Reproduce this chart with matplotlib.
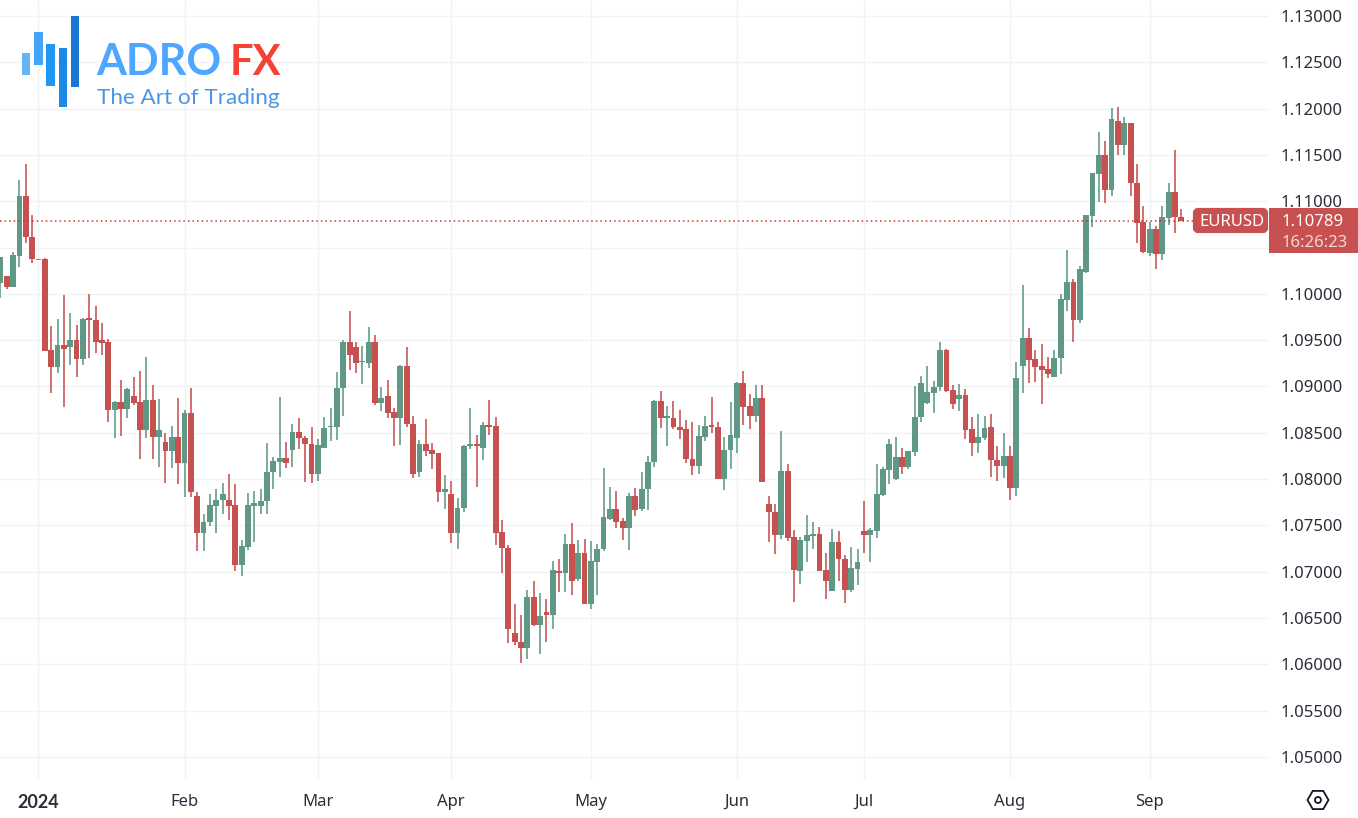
import numpy as np
import pandas as pd
import matplotlib
matplotlib.use('Agg')
import matplotlib.pyplot as plt
from matplotlib.patches import Rectangle, FancyBboxPatch, RegularPolygon, Circle

# EURUSD daily candles, 22 Dec 2023 - 9 Sep 2024
opens = [1.10113, 1.10192, 1.10070, 1.10408, 1.11056, 1.10617, 1.10369, 1.10372, 1.09393, 1.09209,
         1.09443, 1.09429, 1.09501, 1.09296, 1.09735, 1.09717, 1.09501, 1.09479, 1.08749, 1.08828,
         1.08756, 1.08896, 1.08828, 1.08529, 1.08853, 1.08453, 1.08403, 1.08302, 1.08453, 1.08176,
         1.08716, 1.07816, 1.07420, 1.07532, 1.07712, 1.07773, 1.07773, 1.07719, 1.07078, 1.07269,
         1.07712, 1.07712, 1.07766, 1.08075, 1.08187, 1.08223, 1.08313, 1.08507,
         1.08440, 1.08379, 1.08051, 1.08339, 1.08559, 1.08562, 1.08984, 1.09484, 1.09426, 1.09261, 1.09257,
         1.09480, 1.08825, 1.08894, 1.08724, 1.08656, 1.09221, 1.08595, 1.08076, 1.08375, 1.08310,
         1.08278, 1.07864, 1.07839, 1.07421, 1.07688, 1.08361, 1.08375, 1.08339, 1.08588, 1.08573,
         1.07428, 1.07256, 1.06338, 1.06240, 1.06176, 1.06726, 1.06424, 1.06564, 1.06532, 1.07011,
         1.06982, 1.07299, 1.06924, 1.07202, 1.06651, 1.07108, 1.07245, 1.07569, 1.07677, 1.07544,
         1.07475, 1.07817, 1.07677, 1.07893, 1.08188, 1.08843, 1.08663, 1.08656, 1.08559, 1.08541,
         1.08220, 1.08141, 1.08454, 1.08580, 1.08562, 1.08004, 1.08314, 1.08440, 1.09041, 1.08789,
         1.08681, 1.08876, 1.07734, 1.07648, 1.07396, 1.08087, 1.07374, 1.07011, 1.07331, 1.07389,
         1.07410, 1.07014, 1.06795, 1.07320, 1.07137, 1.06802, 1.07029, 1.07436, 1.07396, 1.07443,
         1.07832, 1.08098, 1.08001, 1.08238, 1.08127, 1.08296, 1.08674, 1.08818, 1.08933, 1.08991,
         1.09394, 1.08962, 1.08861, 1.08908, 1.08541, 1.08393, 1.08447, 1.08559, 1.08206, 1.08145,
         1.08253, 1.07904, 1.09221, 1.09527, 1.09297, 1.09218, 1.09189, 1.09106, 1.09311, 1.09933,
         1.10124, 1.09717, 1.10239, 1.10840, 1.11294, 1.11495, 1.11121, 1.11866, 1.11607, 1.11848,
         1.11193, 1.10775, 1.10441, 1.10696, 1.10430, 1.10819, 1.11099, 1.10826]
highs = [1.10401, 1.10192, 1.10451, 1.11229, 1.11398, 1.10851, 1.10376, 1.10387, 1.09652, 1.09728,
         1.09987, 1.09789, 1.09663, 1.09742, 1.09998, 1.09868, 1.09681, 1.09512, 1.08842, 1.09069,
         1.08983, 1.09098, 1.09163, 1.09317, 1.09015, 1.08860, 1.08497, 1.08572, 1.08875, 1.08745,
         1.08983, 1.07863, 1.07622, 1.07838, 1.07888, 1.07953, 1.08054, 1.07946, 1.07348, 1.07845,
         1.07870, 1.07895, 1.08385, 1.08241, 1.08882, 1.08399, 1.08590, 1.08659,
         1.08465, 1.08559, 1.08429, 1.08667, 1.08764, 1.09153, 1.09498, 1.09815, 1.09480, 1.09437, 1.09639,
         1.09552, 1.08991, 1.09066, 1.08764, 1.09232, 1.09426, 1.08678, 1.08422, 1.08645, 1.08386,
         1.08278, 1.08044, 1.07979, 1.07792, 1.08364, 1.08764, 1.08476, 1.08620, 1.08854, 1.08667,
         1.07558, 1.07284, 1.06654, 1.06532, 1.06798, 1.06899, 1.06770, 1.06705, 1.07115, 1.07140,
         1.07407, 1.07529, 1.07342, 1.07353, 1.07331, 1.07299, 1.08120, 1.07914, 1.07871, 1.07580,
         1.07846, 1.07900, 1.08073, 1.08253, 1.08858, 1.08948, 1.08789, 1.08840, 1.08742, 1.08638,
         1.08613, 1.08580, 1.08678, 1.08890, 1.08613, 1.08451, 1.08829, 1.09048, 1.09164, 1.08915,
         1.09016, 1.09016, 1.07817, 1.07734, 1.08523, 1.08163, 1.07450, 1.07378, 1.07616, 1.07533,
         1.07479, 1.07202, 1.07464, 1.07439, 1.07176, 1.07266, 1.07245, 1.07763, 1.07472, 1.08163,
         1.08134, 1.08433, 1.08451, 1.08336, 1.08303, 1.09005, 1.09113, 1.09225, 1.09056, 1.09480,
         1.09408, 1.09016, 1.09027, 1.08969, 1.08667, 1.08699, 1.08681, 1.08699, 1.08357, 1.08494,
         1.08357, 1.09261, 1.10096, 1.09632, 1.09394, 1.09459, 1.09315, 1.09394, 1.09999, 1.10473,
         1.10160, 1.10300, 1.10855, 1.11308, 1.11744, 1.11650, 1.12007, 1.12021, 1.11906, 1.11848,
         1.11398, 1.10948, 1.10775, 1.10732, 1.10948, 1.11193, 1.11557, 1.10912]
lows = [1.09951, 1.10055, 1.10070, 1.10286, 1.10552, 1.10336, 1.10369, 1.09386, 1.08932, 1.09148,
        1.08774, 1.09227, 1.09105, 1.09231, 1.09310, 1.09364, 1.09339, 1.08619, 1.08446, 1.08468,
        1.08662, 1.08799, 1.08216, 1.08446, 1.08216, 1.08133, 1.07960, 1.08122, 1.07949, 1.07802,
        1.07802, 1.07229, 1.07229, 1.07496, 1.07413, 1.07622, 1.07561, 1.07010, 1.06952, 1.07237,
        1.07323, 1.07622, 1.07622, 1.07895, 1.08025, 1.08122, 1.08129, 1.08327,
        1.07972, 1.07961, 1.07983, 1.08339, 1.08408, 1.08426, 1.08678, 1.09182, 1.09146, 1.09030, 1.09203,
        1.08804, 1.08739, 1.08663, 1.08354, 1.08372, 1.08559, 1.08015, 1.08026, 1.08253, 1.08112,
        1.07756, 1.07677, 1.07310, 1.07248, 1.07648, 1.08321, 1.07918, 1.08206, 1.08476, 1.07284,
        1.06989, 1.06226, 1.06204, 1.06014, 1.06057, 1.06417, 1.06107, 1.06240, 1.06384, 1.06780,
        1.06780, 1.06744, 1.06903, 1.06651, 1.06593, 1.06744, 1.07227, 1.07558, 1.07475, 1.07346,
        1.07234, 1.07605, 1.07659, 1.07670, 1.08134, 1.08552, 1.08357, 1.08544, 1.08433, 1.08174,
        1.08048, 1.08055, 1.08408, 1.08501, 1.08004, 1.07886, 1.08112, 1.08285, 1.08588, 1.08541,
        1.08620, 1.07972, 1.07324, 1.07194, 1.07349, 1.07335, 1.06676, 1.06867, 1.07104, 1.07248,
        1.07007, 1.06708, 1.06795, 1.06903, 1.06665, 1.06777, 1.06856, 1.07198, 1.07104, 1.07367,
        1.07817, 1.07947, 1.07994, 1.08055, 1.08105, 1.08253, 1.08620, 1.08807, 1.08717, 1.08955,
        1.08940, 1.08760, 1.08735, 1.08436, 1.08253, 1.08285, 1.08422, 1.08026, 1.07983, 1.08015,
        1.07778, 1.07817, 1.08933, 1.09038, 1.09048, 1.08814, 1.09095, 1.09106, 1.09135, 1.09818,
        1.09483, 1.09688, 1.10221, 1.10721, 1.10991, 1.10984, 1.11056, 1.11499, 1.11499, 1.11056,
        1.10552, 1.10437, 1.10408, 1.10268, 1.10365, 1.10743, 1.10660, 1.10789]
closes = [1.10401, 1.10070, 1.10419, 1.11056, 1.10610, 1.10372, 1.10376, 1.09386, 1.09209, 1.09443,
          1.09404, 1.09501, 1.09296, 1.09728, 1.09717, 1.09479, 1.09469, 1.08749, 1.08828, 1.08756,
          1.08972, 1.08821, 1.08529, 1.08853, 1.08453, 1.08529, 1.08302, 1.08453, 1.08176, 1.08716,
          1.07856, 1.07420, 1.07535, 1.07719, 1.07773, 1.07834, 1.07712, 1.07078, 1.07276, 1.07719,
          1.07741, 1.07766, 1.08075, 1.08191, 1.08223, 1.08169, 1.08507, 1.08439,
          1.08379, 1.08051, 1.08372, 1.08555, 1.08573, 1.08984, 1.09484, 1.09340, 1.09254, 1.09272, 1.09480,
          1.08825, 1.08872, 1.08717, 1.08656, 1.09221, 1.08591, 1.08058, 1.08375, 1.08307, 1.08274,
          1.07864, 1.07893, 1.07421, 1.07688, 1.08361, 1.08375, 1.08357, 1.08588, 1.08566, 1.07421,
          1.07256, 1.06381, 1.06237, 1.06176, 1.06726, 1.06424, 1.06521, 1.06532, 1.07014, 1.06982,
          1.07299, 1.06899, 1.07202, 1.06651, 1.07115, 1.07248, 1.07587, 1.07677, 1.07536, 1.07475,
          1.07817, 1.07670, 1.07893, 1.08188, 1.08843, 1.08660, 1.08678, 1.08559, 1.08534, 1.08220,
          1.08141, 1.08462, 1.08573, 1.08566, 1.08004, 1.08314, 1.08476, 1.09041, 1.08782, 1.08681,
          1.08876, 1.07972, 1.07644, 1.07396, 1.08087, 1.07367, 1.07014, 1.07342, 1.07392, 1.07407,
          1.07007, 1.06903, 1.07320, 1.07137, 1.06802, 1.07040, 1.07108, 1.07396, 1.07450, 1.07839,
          1.08105, 1.08379, 1.08238, 1.08134, 1.08303, 1.08674, 1.09041, 1.08940, 1.08994, 1.09394,
          1.08955, 1.08807, 1.08908, 1.08534, 1.08393, 1.08451, 1.08552, 1.08202, 1.08145, 1.08253,
          1.07904, 1.09092, 1.09527, 1.09290, 1.09214, 1.09178, 1.09138, 1.09311, 1.09945, 1.10124,
          1.09721, 1.10268, 1.10855, 1.11308, 1.11495, 1.11125, 1.11888, 1.11607, 1.11845, 1.11193,
          1.10768, 1.10451, 1.10696, 1.10433, 1.10826, 1.11099, 1.10829, 1.10789]

price_ticks = [1.05, 1.055, 1.06, 1.065, 1.07, 1.075, 1.08, 1.085, 1.09, 1.095,
               1.10, 1.105, 1.11, 1.115, 1.12, 1.125, 1.13]
month_dates = ['2024-01-01', '2024-02-01', '2024-03-01', '2024-04-01', '2024-05-01',
               '2024-06-03', '2024-07-01', '2024-08-01', '2024-09-02']
month_labels = ['2024', 'Feb', 'Mar', 'Apr', 'May', 'Jun', 'Jul', 'Aug', 'Sep']
last_price = 1.10789

GREEN = '#5f9985'
RED = '#c75050'
GRID = '#f2f3f5'
TEXT = '#2a2e39'
FONT = 'Noto Sans'

W, H = 1358, 818
fig = plt.figure(figsize=(W / 100, H / 100), dpi=100, facecolor='white')

# main price pane, no frame
ax = fig.add_axes([0, (H - 779) / H, 1269 / W, 779 / H])
for s in ax.spines.values():
    s.set_visible(False)

dates = pd.bdate_range('2023-12-22', periods=len(opens))
x = np.arange(len(dates))
o, hi, lo, c = map(np.array, (opens, highs, lows, closes))
colors = np.where(c >= o, GREEN, RED)

ax.vlines(x, lo, hi, colors=colors, linewidth=1.15, zorder=3)
ax.bar(x, np.abs(c - o), bottom=np.minimum(o, c), width=0.92, color=colors, linewidth=0, zorder=4)
ax.axhline(last_price, color='#d32f2f', linewidth=1.1, dashes=(1, 2), zorder=5)

ax.set_xlim(-0.06, 199.8)
ax.set_ylim(1.047624, 1.131727)

month_x = [dates.get_loc(pd.Timestamp(d)) for d in month_dates]
ax.set_xticks(month_x)
ax.set_xticklabels(month_labels, fontsize=12, color=TEXT, family=FONT)
ax.yaxis.tick_right()
ax.set_yticks(price_ticks)
# the 1.10500 label sits behind the price box in the chart
ax.set_yticklabels(['' if p == 1.105 else f'{p:.5f}' for p in price_ticks], fontsize=12, color=TEXT, family=FONT)
ax.tick_params(length=0)
ax.tick_params(axis='x', pad=11)
ax.tick_params(axis='y', pad=8.5)
ax.grid(True, color=GRID, linewidth=1.0)
ax.set_axisbelow(True)
# Noto Sans renders no bold here, Lato does
for lab in ax.get_xticklabels():
    if lab.get_text() == '2024':
        lab.set_family('Lato')
        lab.set_fontweight('bold')
        lab.set_fontsize(13)

# overlay in pixel units for logo and price labels
ov = fig.add_axes([0, 0, 1, 1], facecolor='none')
ov.set_xlim(0, W)
ov.set_ylim(H, 0)
ov.axis('off')

# logo
logo_bars = [(22, 53, 8, 22, '#64b5f6'), (34, 32, 9, 33, '#42a5f5'), (46, 44, 9, 42, '#2196f3'),
             (59, 48, 8, 59, '#1e88e5'), (71, 16, 8, 71, '#1976d2')]
for bx, by, bw, bh, col in logo_bars:
    ov.add_patch(Rectangle((bx, by), bw, bh, color=col, linewidth=0))
ov.text(96, 75, 'ADRO', fontsize=31, fontweight='bold', color='#4da6ff', family='Lato', va='baseline')
ov.text(230, 75, 'FX', fontsize=30, fontweight='bold', color='#f44336', family='Lato', va='baseline')
ov.text(97, 104, 'The Art of Trading', fontsize=16.2, color='#4c97e3', family='Lato', va='baseline')

# symbol and price labels
ov.add_patch(FancyBboxPatch((1195, 210), 71, 21, boxstyle='round,pad=0,rounding_size=3',
                            mutation_aspect=1, facecolor=RED, edgecolor=RED, linewidth=3))
ov.text(1231.5, 222, 'EURUSD', fontsize=12, color='white', family=FONT, ha='center', va='center')
ov.add_patch(Rectangle((1269, 208), 89, 45, facecolor=RED, linewidth=0))
ov.text(1282, 222.5, f'{last_price:.5f}', fontsize=12, color='white', family=FONT, va='center')
ov.text(1282, 243, '16:26:23', fontsize=12, color='#f3d6d6', family=FONT, va='center')

# settings icon
ov.add_patch(RegularPolygon((1318, 800), 6, radius=10.5, orientation=np.pi / 6,
                            facecolor='none', edgecolor='#131722', linewidth=1.3))
ov.add_patch(Circle((1318, 800), 3, facecolor='none', edgecolor='#131722', linewidth=1.3))

fig.savefig('out.png', dpi=100, facecolor='white')
